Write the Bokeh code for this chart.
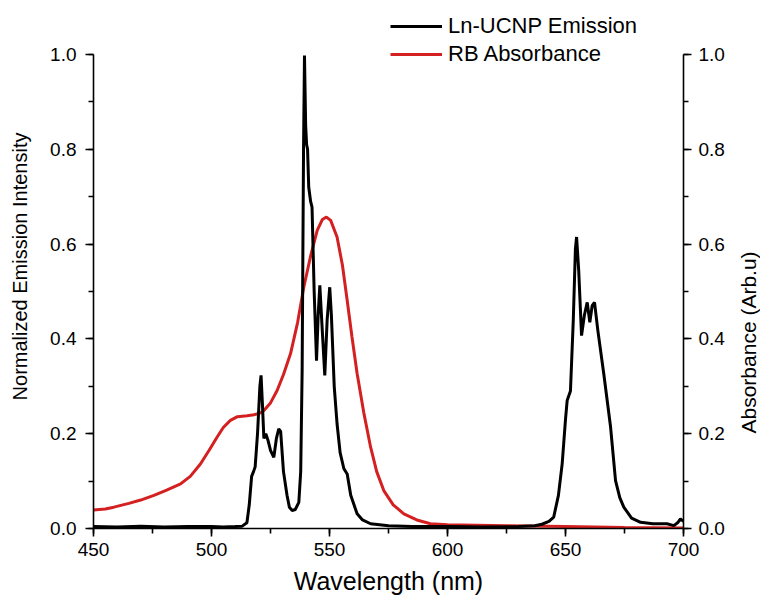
from bokeh.plotting import figure
from bokeh.layouts import row
from bokeh.models import (LinearAxis, Range1d, SingleIntervalTicker, NumeralTickFormatter,
                          Legend, LegendItem)
from bokeh.embed import file_html
from bokeh.resources import INLINE

# Emission (Ln-UCNP)
em_wl = [450, 460, 470, 480, 490, 500, 505, 510, 513, 515, 516, 517, 517.8, 518.5, 519.5, 520.5, 521,
         521.6, 522.2, 523, 524, 525, 526.4, 527.5, 528.5, 529.3, 530.5, 532, 533, 534.2, 535.5, 537,
         537.8, 538.4, 539, 539.4, 539.9, 540.3, 540.7, 541.2, 542, 542.6, 543.5, 544.5, 545.2, 545.9,
         546.8, 548, 549, 550.1, 550.8, 552, 553.2, 554.5, 556.1, 557.5, 559, 561.7, 564, 567.4, 575,
         585, 600, 615, 630, 637, 640, 643, 645, 647, 648.6, 650, 650.7, 652.1, 653.3, 654.2, 654.7,
         655.6, 656.8, 658, 659.2, 660.3, 661.3, 662.3, 663.7, 666.2, 669.1, 671.2, 673, 674.7, 678,
         681.8, 687, 693, 695.9, 697.5, 698.7, 700]
em_val = [0.004, 0.003, 0.005, 0.003, 0.004, 0.004, 0.003, 0.004, 0.005, 0.012, 0.05, 0.11, 0.12, 0.13,
          0.2, 0.3, 0.323, 0.26, 0.19, 0.2, 0.185, 0.165, 0.15, 0.19, 0.21, 0.205, 0.12, 0.07, 0.045,
          0.038, 0.04, 0.055, 0.12, 0.33, 0.8, 0.998, 0.85, 0.81, 0.8, 0.72, 0.69, 0.678, 0.5, 0.354,
          0.45, 0.513, 0.43, 0.323, 0.44, 0.509, 0.45, 0.3, 0.221, 0.16, 0.126, 0.115, 0.07, 0.031,
          0.018, 0.01, 0.006, 0.004, 0.004, 0.003, 0.004, 0.006, 0.009, 0.015, 0.024, 0.07, 0.137,
          0.23, 0.27, 0.29, 0.44, 0.59, 0.615, 0.544, 0.407, 0.45, 0.477, 0.435, 0.47, 0.477, 0.418,
          0.327, 0.214, 0.101, 0.065, 0.045, 0.022, 0.013, 0.01, 0.01, 0.006, 0.012, 0.02, 0.015]

# Absorbance (RB)
ab_wl = [450, 455, 458.6, 465, 470, 475.6, 481, 486.9, 491, 495.3, 499, 502.4, 505, 508, 511, 515.1,
         518, 520.8, 522.2, 525, 527.8, 530.5, 533.5, 536.5, 539.1, 542, 544.8, 547, 548.7, 550.5,
         553.2, 555.5, 557.5, 559.5, 561.7, 564.5, 567.4, 570, 573, 577, 581.5, 587, 592.8, 600,
         625, 650, 675, 700]
ab_val = [0.039, 0.041, 0.045, 0.053, 0.06, 0.07, 0.081, 0.094, 0.11, 0.136, 0.165, 0.193, 0.213,
          0.228, 0.236, 0.238, 0.24, 0.244, 0.249, 0.265, 0.291, 0.325, 0.369, 0.435, 0.509, 0.575,
          0.629, 0.652, 0.657, 0.65, 0.615, 0.555, 0.481, 0.405, 0.327, 0.245, 0.172, 0.12, 0.08,
          0.05, 0.031, 0.018, 0.01, 0.008, 0.006, 0.004, 0.002, 0.001]

FONT = "Liberation Sans"
Y_TOP = 524 / 474  # extra headroom above 1.0 so the legend can sit above the axes

p = figure(width=730, height=606, output_backend="svg", toolbar_location=None,
           x_range=Range1d(450, 700), y_range=Range1d(0, Y_TOP),
           min_border_left=93, min_border_right=47, min_border_top=4, min_border_bottom=78)
p.extra_y_ranges = {"abs": Range1d(0, Y_TOP)}
p.xgrid.visible = False
p.ygrid.visible = False
p.outline_line_color = None
p.background_fill_color = "white"

r_abs = p.line(ab_wl, ab_val, line_color="#d42020", line_width=3, y_range_name="abs")
r_em = p.line(em_wl, em_val, line_color="black", line_width=3)

right = LinearAxis(y_range_name="abs")
p.add_layout(right, "right")

for ax in [p.xaxis[0], p.yaxis[0], right]:
    ax.axis_line_color = "black"
    ax.axis_line_width = 1.6
    ax.major_tick_line_width = 1.6
    ax.minor_tick_line_width = 1.6
    ax.major_tick_out = 8
    ax.major_tick_in = 0
    ax.minor_tick_out = 5
    ax.minor_tick_in = 0
    ax.major_label_text_font = FONT
    ax.major_label_text_font_size = "19px"
    ax.major_label_text_color = "black"
    ax.major_label_standoff = 8
    ax.axis_label_text_font = FONT
    ax.axis_label_text_font_size = "20px"
    ax.axis_label_text_font_style = "normal"
    ax.axis_label_text_color = "black"

for ax in [p.yaxis[0], right]:
    ax.ticker = SingleIntervalTicker(interval=0.2, num_minor_ticks=2)
    ax.formatter = NumeralTickFormatter(format="0.0")
    ax.bounds = (0, 1)
p.xaxis[0].ticker = SingleIntervalTicker(interval=50, num_minor_ticks=2)
p.xaxis[0].axis_label = "Wavelength (nm)"
p.xaxis[0].axis_label_text_font_size = "25px"
p.xaxis[0].major_label_standoff = 6
p.xaxis[0].axis_label_standoff = 8
p.yaxis[0].axis_label = "Normalized Emission Intensity"
p.yaxis[0].axis_label_text_font_size = "20px"
p.yaxis[0].major_label_standoff = 9
p.yaxis[0].axis_label_standoff = 16
right.major_label_standoff = 7

legend = Legend(items=[LegendItem(label="Ln-UCNP Emission", renderers=[r_em]),
                       LegendItem(label="RB Absorbance", renderers=[r_abs])],
                location=(297, 461))
legend.border_line_alpha = 0
legend.background_fill_alpha = 0
legend.padding = 0
legend.margin = 0
legend.spacing = 2
legend.glyph_width = 52
legend.glyph_height = 22
legend.label_height = 22
legend.label_standoff = 6
legend.label_text_font = FONT
legend.label_text_font_size = "22px"
legend.label_text_color = "black"
p.add_layout(legend, "center")

# Narrow strip carrying the right-hand axis title (reads bottom-to-top like the reference)
q = figure(width=30, height=606, output_backend="svg", toolbar_location=None,
           x_range=Range1d(0, 1), y_range=Range1d(0, 1),
           title="Absorbance (Arb.u)", title_location="left",
           min_border_left=29, min_border_right=0, min_border_top=4, min_border_bottom=78)
q.xaxis.visible = False
q.yaxis.visible = False
q.xgrid.visible = False
q.ygrid.visible = False
q.outline_line_color = None
q.title.text_font = FONT
q.title.text_font_size = "21px"
q.title.text_font_style = "normal"
q.title.text_color = "black"
q.title.align = "left"
q.title.offset = 95
q.title.standoff = 0

layout = row(p, q)
open("out.html", "w").write(file_html(layout, INLINE))
